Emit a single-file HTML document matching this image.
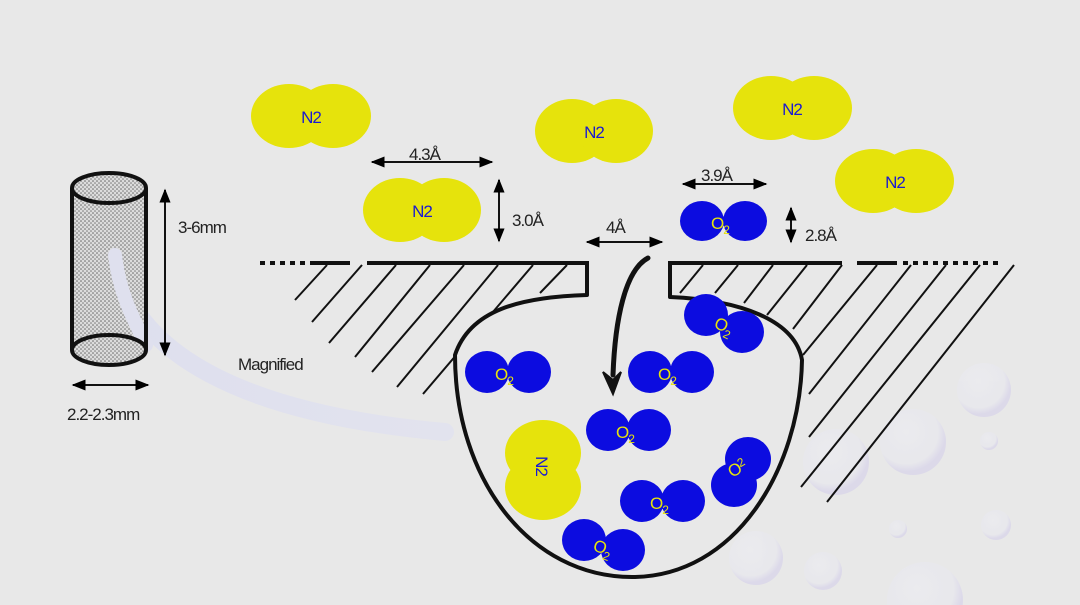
<!DOCTYPE html>
<html><head><meta charset="utf-8"><style>
html,body{margin:0;padding:0;background:#e8e8e8;width:1080px;height:605px;overflow:hidden;}
svg{display:block;}
text{font-family:"Liberation Sans",sans-serif;}
</style></head><body>
<svg width="1080" height="605" viewBox="0 0 1080 605" xmlns="http://www.w3.org/2000/svg">
<defs>
<pattern id="dots" width="4" height="4" patternUnits="userSpaceOnUse">
<rect width="4" height="4" fill="#dcdcdc"/>
<circle cx="1" cy="1" r="0.8" fill="#666"/><circle cx="3" cy="3" r="0.8" fill="#777"/>
</pattern>
<radialGradient id="bub" cx="0.4" cy="0.35" r="0.6">
<stop offset="0" stop-color="#ececf0"/><stop offset="0.8" stop-color="#e8e8ee"/><stop offset="1" stop-color="#d8d4ea"/>
</radialGradient>
<linearGradient id="fade" x1="0" y1="0" x2="1" y2="0">
<stop offset="0" stop-color="#dedfee"/><stop offset="1" stop-color="#e2e3ee"/>
</linearGradient>
<marker id="ah" viewBox="0 0 10 10" refX="9" refY="5" markerWidth="7" markerHeight="7" orient="auto-start-reverse"><path d="M0,1 L10,5 L0,9 z" fill="#000"/></marker>
</defs>
<rect width="1080" height="605" fill="#e8e8e8"/>

<!-- bubbles -->
<g opacity="0.75">
<circle cx="984" cy="390" r="27" fill="url(#bub)"/>
<circle cx="913" cy="442" r="33" fill="url(#bub)"/>
<circle cx="836" cy="462" r="33" fill="url(#bub)"/>
<circle cx="989" cy="441" r="9" fill="url(#bub)"/>
<circle cx="996" cy="525" r="15" fill="url(#bub)"/>
<circle cx="898" cy="529" r="9" fill="url(#bub)"/>
<circle cx="756" cy="558" r="27" fill="url(#bub)"/>
<circle cx="823" cy="571" r="19" fill="url(#bub)"/>
<circle cx="925" cy="600" r="38" fill="url(#bub)"/>
</g>

<!-- magnified arrow -->
<path d="M115,255 C125,330 200,410 445,432" fill="none" stroke="url(#fade)" stroke-width="18" stroke-linecap="round"/>

<!-- cylinder -->
<rect x="72" y="188" width="74" height="162" fill="url(#dots)"/>
<path d="M115,255 C120,300 140,330 146,345" fill="none" stroke="#dfe0ee" stroke-width="14" stroke-linecap="round"/>
<line x1="72" y1="188" x2="72" y2="350" stroke="#111" stroke-width="4"/>
<line x1="146" y1="188" x2="146" y2="350" stroke="#111" stroke-width="4"/>
<ellipse cx="109" cy="188" rx="37" ry="15" fill="url(#dots)" stroke="#111" stroke-width="4"/>
<ellipse cx="109" cy="350" rx="37" ry="15" fill="url(#dots)" stroke="#111" stroke-width="4"/>

<!-- dims -->
<g stroke="#111" stroke-width="2" fill="none">
<line x1="165" y1="190" x2="165" y2="355" marker-start="url(#ah)" marker-end="url(#ah)"/>
<line x1="73" y1="385" x2="148" y2="385" marker-start="url(#ah)" marker-end="url(#ah)"/>
<line x1="372" y1="162" x2="492" y2="162" marker-start="url(#ah)" marker-end="url(#ah)"/>
<line x1="499" y1="180" x2="499" y2="241" marker-start="url(#ah)" marker-end="url(#ah)"/>
<line x1="587" y1="242" x2="662" y2="242" marker-start="url(#ah)" marker-end="url(#ah)"/>
<line x1="683" y1="184" x2="766" y2="184" marker-start="url(#ah)" marker-end="url(#ah)"/>
<line x1="791" y1="208" x2="791" y2="242" marker-start="url(#ah)" marker-end="url(#ah)"/>
</g>
<g font-size="17" fill="#222" letter-spacing="-1">
<text x="178" y="233">3-6mm</text>
<text x="67" y="420">2.2-2.3mm</text>
<text x="238" y="370">Magnified</text>
<text x="409" y="160">4.3Å</text>
<text x="512" y="226">3.0Å</text>
<text x="606" y="233">4Å</text>
<text x="701" y="181">3.9Å</text>
<text x="805" y="241">2.8Å</text>
</g>

<!-- hatching -->
<g stroke="#111" stroke-width="2">
<line x1="327" y1="265" x2="295" y2="300"/>
<line x1="362" y1="265" x2="312" y2="322"/>
<line x1="396" y1="265" x2="329" y2="343"/>
<line x1="430" y1="265" x2="355" y2="357"/>
<line x1="464" y1="265" x2="372" y2="372"/>
<line x1="498" y1="265" x2="397" y2="387"/>
<line x1="533" y1="265" x2="423" y2="394"/>
<line x1="567" y1="265" x2="540" y2="293"/>
<line x1="703" y1="265" x2="680" y2="293"/>
<line x1="738" y1="265" x2="715" y2="293"/>
<line x1="773" y1="265" x2="744" y2="303"/>
<line x1="807" y1="265" x2="767" y2="315"/>
<line x1="842" y1="265" x2="793" y2="329"/>
<line x1="877" y1="265" x2="803" y2="355"/>
<line x1="911" y1="265" x2="809" y2="394"/>
<line x1="946" y1="265" x2="809" y2="437"/>
<line x1="980" y1="265" x2="801" y2="487"/>
<line x1="1014" y1="265" x2="827" y2="502"/>
</g>

<!-- bowl -->
<path d="M587,263 L587,295 C520,297 470,310 455,355 C455,480 530,577 632,577 C735,577 800,470 802,360 C795,320 740,300 670,297 L670,263" fill="#e8e8e8" stroke="#111" stroke-width="4" stroke-linejoin="round"/>

<!-- surface -->
<g stroke="#111" stroke-width="4">
<line x1="310" y1="263" x2="350" y2="263"/>
<line x1="367" y1="263" x2="589" y2="263"/>
<line x1="668" y1="263" x2="842" y2="263"/>
<line x1="857" y1="263" x2="897" y2="263"/>
<line x1="260" y1="263" x2="310" y2="263" stroke-dasharray="5,5"/>
<line x1="903" y1="263" x2="998" y2="263" stroke-dasharray="5,5"/>
</g>

<!-- big arrow -->
<path d="M648,258 C625,270 615,320 613,375" fill="none" stroke="#111" stroke-width="5" stroke-linecap="round"/>
<path d="M603,372 L613,394 L621,372 L613,380 z" fill="#111" stroke="#111" stroke-width="2"/>

<!-- molecules -->
<g fill="#e6e30c">
<ellipse cx="289" cy="116" rx="38" ry="32"/><ellipse cx="333" cy="116" rx="38" ry="32"/>
<ellipse cx="572" cy="131" rx="37" ry="32"/><ellipse cx="616" cy="131" rx="37" ry="32"/>
<ellipse cx="771" cy="108" rx="38" ry="32"/><ellipse cx="814" cy="108" rx="38" ry="32"/>
<ellipse cx="873" cy="181" rx="38" ry="32"/><ellipse cx="916" cy="181" rx="38" ry="32"/>
<ellipse cx="400" cy="210" rx="37" ry="32"/><ellipse cx="444" cy="210" rx="37" ry="32"/>
<ellipse cx="543" cy="453" rx="38" ry="33"/><ellipse cx="543" cy="487" rx="38" ry="33"/>
</g>
<g fill="#0c0ce0">
<ellipse cx="702" cy="221" rx="22" ry="20"/><ellipse cx="745" cy="221" rx="22" ry="20"/>
<ellipse cx="487" cy="372" rx="22" ry="21"/><ellipse cx="529" cy="372" rx="22" ry="21"/>
<ellipse cx="650" cy="372" rx="22" ry="21"/><ellipse cx="692" cy="372" rx="22" ry="21"/>
<ellipse cx="608" cy="430" rx="22" ry="21"/><ellipse cx="649" cy="430" rx="22" ry="21"/>
<ellipse cx="642" cy="501" rx="22" ry="21"/><ellipse cx="683" cy="501" rx="22" ry="21"/>
<ellipse cx="584" cy="540" rx="22" ry="21"/><ellipse cx="623" cy="550" rx="22" ry="21"/>
<ellipse cx="706" cy="315" rx="22" ry="21"/><ellipse cx="742" cy="332" rx="22" ry="21"/>
<ellipse cx="748" cy="459" rx="23" ry="22"/><ellipse cx="734" cy="485" rx="23" ry="22"/>
</g>
<g font-size="17" fill="#1a1ad0" letter-spacing="-1" text-anchor="middle">
<text x="311" y="123">N2</text>
<text x="594" y="138">N2</text>
<text x="792" y="115">N2</text>
<text x="895" y="188">N2</text>
<text x="422" y="217">N2</text>
<text transform="translate(536,466) rotate(90)" x="0" y="0">N2</text>
</g>
<g font-size="17" fill="#e6e30c" letter-spacing="-1">
<text x="711" y="229">O<tspan font-size="12" dy="5">2</tspan></text>
<text x="495" y="380">O<tspan font-size="12" dy="5">2</tspan></text>
<text x="658" y="380">O<tspan font-size="12" dy="5">2</tspan></text>
<text x="616" y="438">O<tspan font-size="12" dy="5">2</tspan></text>
<text x="650" y="509">O<tspan font-size="12" dy="5">2</tspan></text>
<text transform="translate(592,550) rotate(20)">O<tspan font-size="12" dy="5">2</tspan></text>
<text transform="translate(713,327) rotate(25)">O<tspan font-size="12" dy="5">2</tspan></text>
<text transform="translate(732,478) rotate(-30)">O<tspan font-size="12" dy="-5">2</tspan></text>
</g>
</svg>
</body></html>
